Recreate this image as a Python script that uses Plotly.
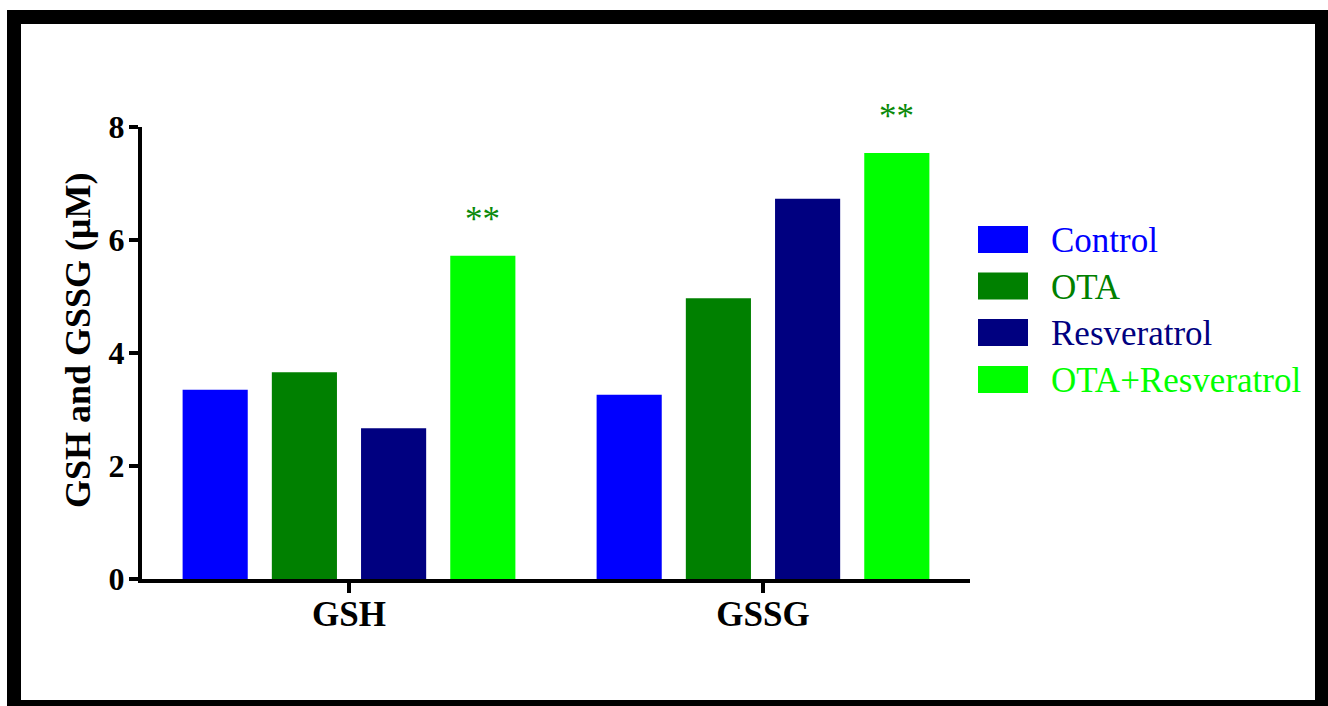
import plotly.graph_objects as go

# Data
categories = ["GSH", "GSSG"]
groups = ["Control", "OTA", "Resveratrol", "OTA+Resveratrol"]
control = [3.35, 3.26]
ota = [3.66, 4.97]
resveratrol = [2.67, 6.73]
ota_resveratrol = [5.72, 7.54]
series = [control, ota, resveratrol, ota_resveratrol]
colors = ["#0000FF", "#008000", "#000080", "#00FF00"]
significance = ["**", "**"]  # OTA+Resveratrol vs. OTA
y_ticks = [0, 2, 4, 6, 8]

# Layout geometry (pixels)
FIG_W, FIG_H = 1328, 706
L, R, T, B = 142, 970, 127, 579
PW, PH = R - L, B - T
BARGAP = 0.138
BARGROUPGAP = 0.27

def px_x(p):
    return (p - L) / PW

def px_y(p):
    return (B - p) / PH

SERIF = "Liberation Serif, Times New Roman, serif"

fig = go.Figure()
for name, vals, col in zip(groups, series, colors):
    fig.add_trace(go.Bar(
        x=categories, y=vals, name=name,
        marker=dict(color=col, line=dict(width=0)),
        showlegend=False,
    ))

# significance marks above the OTA+Resveratrol bars
n = len(groups)
slot = (1 - BARGAP) / n
offset = -(1 - BARGAP) / 2 + (n - 0.5) * slot
annotations = []
for i, (v, s) in enumerate(zip(ota_resveratrol, significance)):
    annotations.append(dict(
        x=i + offset, y=v, xref="x", yref="y", text=s, showarrow=False,
        xanchor="center", yanchor="bottom", yshift=15,
        font=dict(family=SERIF, size=35, color="#0a8a0a"),
    ))

# y-axis title
annotations.append(dict(
    x=px_x(78), y=px_y(341), xref="paper", yref="paper",
    xanchor="center", yanchor="middle",
    text="<b>GSH and GSSG (μM)</b>", textangle=-90, showarrow=False,
    font=dict(family=SERIF, size=36, color="black"),
))

# legend: swatches and coloured labels
shapes = []
row_y = [239.5, 286, 332.5, 379.5]
for name, col, yc in zip(groups, colors, row_y):
    shapes.append(dict(
        type="rect", xref="paper", yref="paper",
        x0=px_x(978), x1=px_x(1028), y0=px_y(yc + 13.5), y1=px_y(yc - 13.5),
        fillcolor=col, line=dict(width=0),
    ))
    annotations.append(dict(
        x=px_x(1049), y=px_y(yc + 1), xref="paper", yref="paper",
        text=name, showarrow=False, xanchor="left", yanchor="middle",
        font=dict(family=SERIF, size=35, color=col),
    ))

# outer black frame
shapes.append(dict(
    type="rect", xref="paper", yref="paper",
    x0=px_x(14), x1=px_x(1322), y0=px_y(707), y1=px_y(17),
    line=dict(color="black", width=14), fillcolor="rgba(0,0,0,0)",
))

fig.update_layout(
    width=FIG_W, height=FIG_H,
    margin=dict(l=L, r=FIG_W - R, t=T, b=FIG_H - B, pad=0),
    paper_bgcolor="white", plot_bgcolor="rgba(0,0,0,0)",
    barmode="group", bargap=BARGAP, bargroupgap=BARGROUPGAP,
    annotations=annotations, shapes=shapes,
    xaxis=dict(
        range=[-0.5, 1.5], showline=True, linecolor="black", linewidth=4,
        ticks="outside", ticklen=10, tickwidth=4, tickcolor="black",
        showgrid=False, zeroline=False,
        tickfont=dict(family=SERIF, size=35, color="black", weight="bold"),
        ticklabelstandoff=-9,
    ),
    yaxis=dict(
        range=[0, 8], tickvals=y_ticks, showline=True, linecolor="black",
        linewidth=4, ticks="outside", ticklen=9, tickwidth=4,
        tickcolor="black", showgrid=False, zeroline=False,
        tickfont=dict(family=SERIF, size=32, color="black", weight="bold"),
        ticklabelstandoff=-2,
    ),
)

fig.write_html("out.html")
